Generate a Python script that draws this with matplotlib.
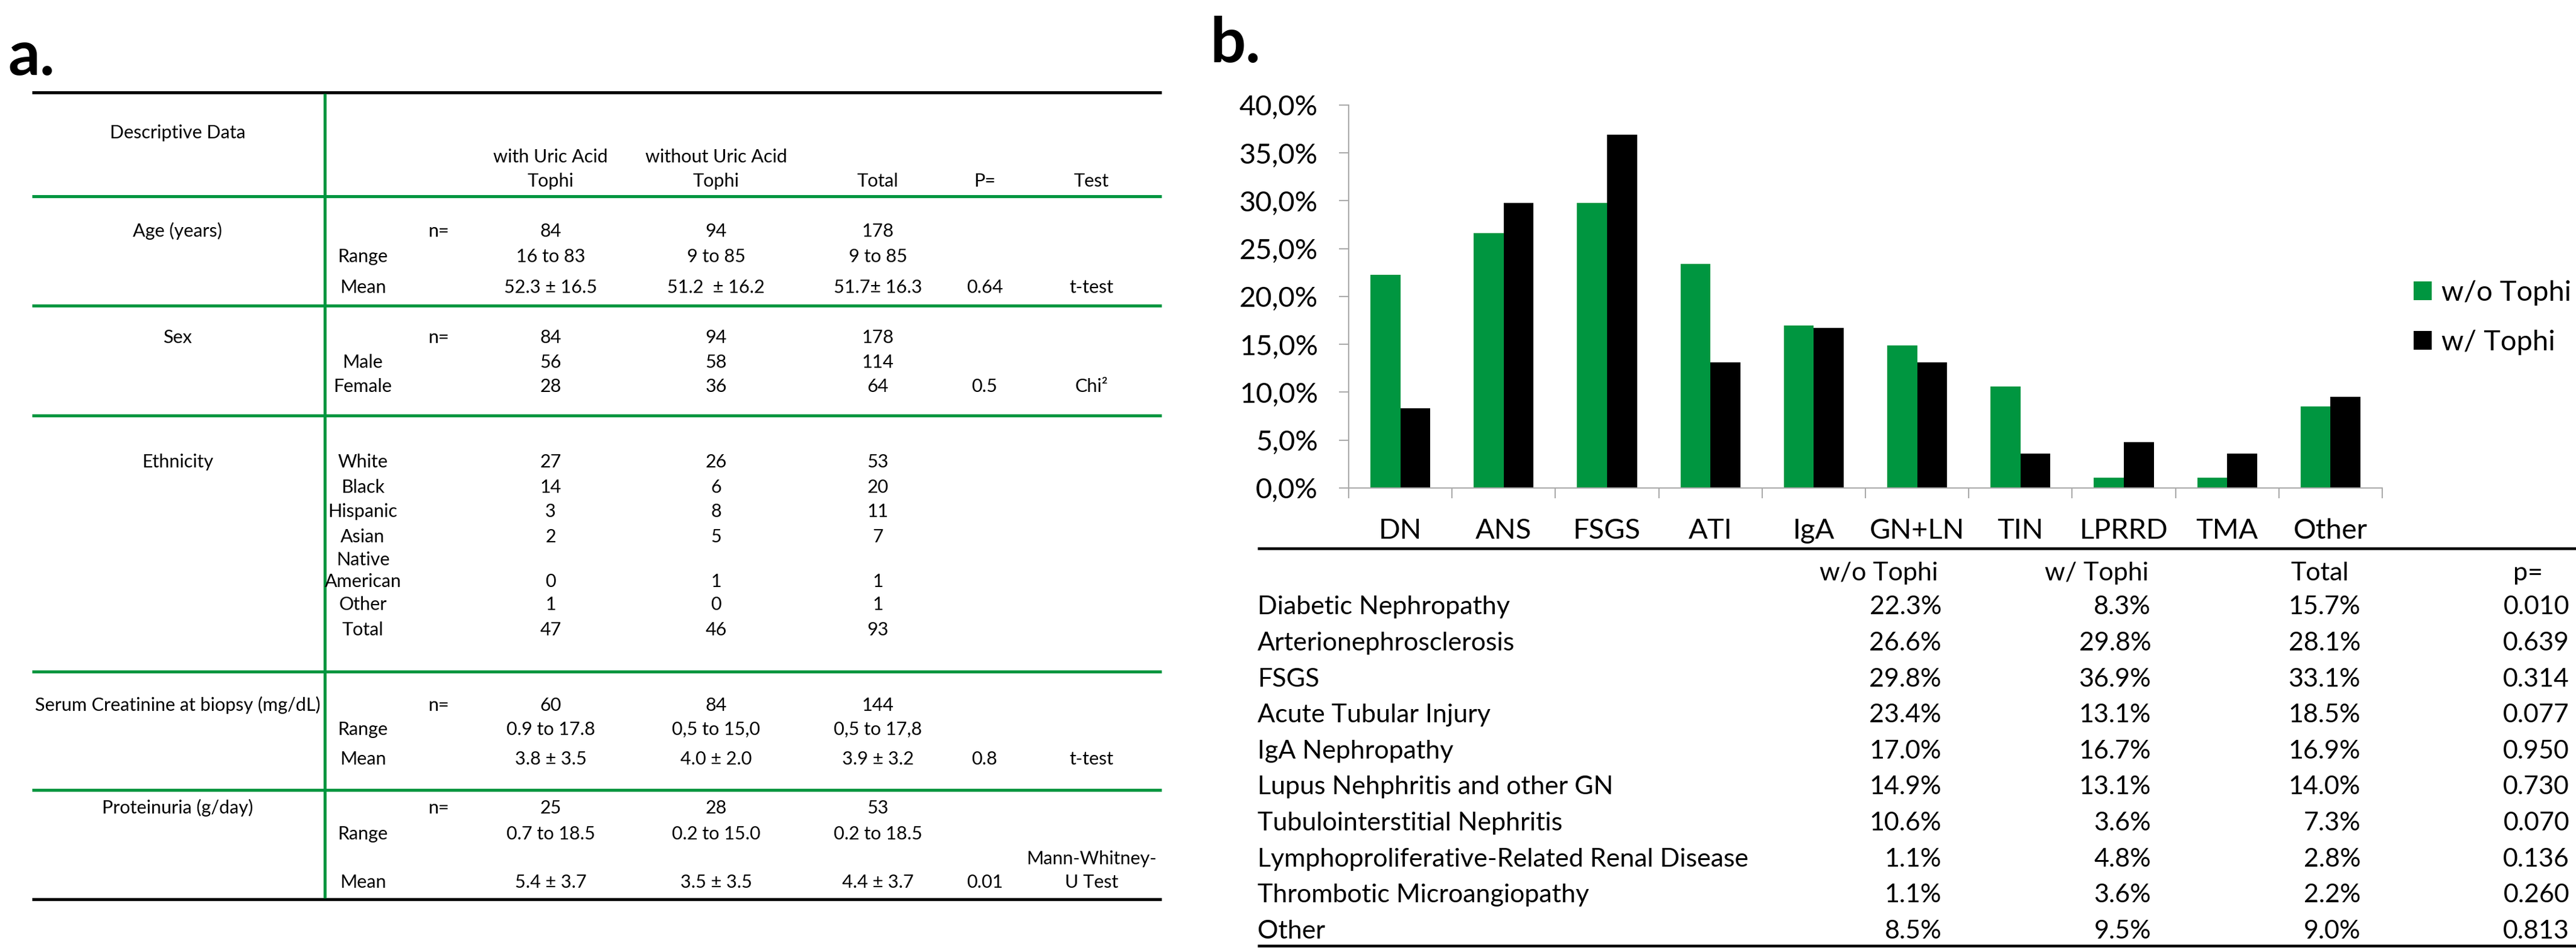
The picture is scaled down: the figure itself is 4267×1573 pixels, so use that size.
import numpy as np
import matplotlib
matplotlib.use("Agg")
import matplotlib.pyplot as plt
from matplotlib.ticker import FixedLocator, FuncFormatter, NullFormatter

plt.rcParams['font.family'] = ['Lato', 'DejaVu Sans']

# ---------------- data ----------------
categories = ['DN', 'ANS', 'FSGS', 'ATI', 'IgA', 'GN+LN', 'TIN', 'LPRRD', 'TMA', 'Other']
wo_tophi = [22.3, 26.6, 29.8, 23.4, 17.0, 14.9, 10.6, 1.1, 1.1, 8.5]
w_tophi = [8.3, 29.8, 36.9, 13.1, 16.7, 13.1, 3.6, 4.8, 3.6, 9.5]
total_pct = [15.7, 28.1, 33.1, 18.5, 16.9, 14.0, 7.3, 2.8, 2.2, 9.0]
p_values = ['0.010', '0.639', '0.314', '0.077', '0.950', '0.730', '0.070', '0.136', '0.260', '0.813']
diagnoses = ['Diabetic Nephropathy', 'Arterionephrosclerosis', 'FSGS', 'Acute Tubular Injury',
             'IgA Nephropathy', 'Lupus Nehphritis and other GN', 'Tubulointerstitial Nephritis',
             'Lymphoproliferative-Related Renal Disease', 'Thrombotic Microangiopathy', 'Other']
table_b_header = ['w/o Tophi', 'w/ Tophi', 'Total', 'p=']
legend_labels = ['w/o Tophi', 'w/ Tophi']
y_ticks = [0, 5, 10, 15, 20, 25, 30, 35, 40]

table_a_header = ['with Uric Acid\nTophi', 'without Uric Acid\nTophi', 'Total', 'P=', 'Test']
section_titles = ['Age (years)', 'Sex', 'Ethnicity', 'Serum Creatinine at biopsy (mg/dL)', 'Proteinuria (g/day)']
# rows: (sub label, n marker, with tophi, without tophi, total, p, test)
age_rows = [('', 'n=', '84', '94', '178', '', ''),
            ('Range', '', '16 to 83', '9 to 85', '9 to 85', '', ''),
            ('Mean', '', '52.3 ± 16.5', '51.2  ± 16.2', '51.7± 16.3', '0.64', 't-test')]
sex_rows = [('', 'n=', '84', '94', '178', '', ''),
            ('Male', '', '56', '58', '114', '', ''),
            ('Female', '', '28', '36', '64', '0.5', 'Chi²')]
eth_rows = [('White', '', '27', '26', '53', '', ''),
            ('Black', '', '14', '6', '20', '', ''),
            ('Hispanic', '', '3', '8', '11', '', ''),
            ('Asian', '', '2', '5', '7', '', ''),
            ('Native\nAmerican', '', '0', '1', '1', '', ''),
            ('Other', '', '1', '0', '1', '', ''),
            ('Total', '', '47', '46', '93', '', '')]
crea_rows = [('', 'n=', '60', '84', '144', '', ''),
             ('Range', '', '0.9 to 17.8', '0,5 to 15,0', '0,5 to 17,8', '', ''),
             ('Mean', '', '3.8 ± 3.5', '4.0 ± 2.0', '3.9 ± 3.2', '0.8', 't-test')]
prot_rows = [('', 'n=', '25', '28', '53', '', ''),
             ('Range', '', '0.7 to 18.5', '0.2 to 15.0', '0.2 to 18.5', '', ''),
             ('Mean', '', '5.4 ± 3.7', '3.5 ± 3.5', '4.4 ± 3.7', '0.01', 'Mann-Whitney-\nU Test')]
sections = [age_rows, sex_rows, eth_rows, crea_rows, prot_rows]

# ---------------- layout (pixels) ----------------
W, H = 4267, 1573
DPI = 100
GREEN = '#009640'
AXGRAY = '#A9A9A9'
PX = 72.0 / DPI  # points per pixel
CAP = 0.7165

fig = plt.figure(figsize=(W / DPI, H / DPI), dpi=DPI)
ov = fig.add_axes([0, 0, 1, 1])
ov.set_xlim(0, W)
ov.set_ylim(H, 0)
ov.axis('off')


def txt(x, yc, s, px, ha='center', **kw):
    ov.text(x, yc + CAP * px / 2.0, s, fontsize=px * PX, ha=ha, va='baseline', **kw)


# panel letters
ov.text(14, 124, 'a.', fontsize=104 * PX, fontweight='bold', ha='left', va='baseline')
ov.text(2005, 103, 'b.', fontsize=104 * PX, fontweight='bold', ha='left', va='baseline')

# ---------------- table a ----------------
TA = 30.5  # font px
tx0, tx1 = 53, 1924
lw_a = 5 * PX
ov.plot([tx0, tx1], [153, 153], color='black', lw=lw_a, solid_capstyle='butt')
ov.plot([tx0, tx1], [1489, 1489], color='black', lw=lw_a, solid_capstyle='butt')
for gy in [324.5, 506, 687.5, 1111.5, 1308]:
    ov.plot([tx0, tx1], [gy, gy], color=GREEN, lw=lw_a, solid_capstyle='butt')
ov.plot([538, 538], [155, 1487], color=GREEN, lw=lw_a, solid_capstyle='butt')

col_title, col_sub, col_n = 294, 601, 727
col_vals = [912, 1186, 1454, 1631, 1808]

txt(col_title, 218, 'Descriptive Data', TA)
for x, h in zip(col_vals, table_a_header):
    lines = h.split('\n')
    if len(lines) == 2:
        txt(x, 258, lines[0], TA)
        txt(x, 298, lines[1], TA)
    else:
        txt(x, 298, lines[0], TA)

section_row_y = [[381, 423, 474],
                 [557, 598, 638],
                 [763, 805, 845.5, 887, 961, 999, 1041],
                 [1166, 1206, 1255],
                 [1336, 1379, 1459.5]]
for title, rows, ys in zip(section_titles, sections, section_row_y):
    txt(col_title, ys[0], title, TA)
    for row, y in zip(rows, ys):
        sub, nmark = row[0], row[1]
        if '\n' in sub:
            a, b = sub.split('\n')
            txt(col_sub, y - 35.5, a, TA)
            txt(col_sub, y, b, TA)
        elif sub:
            txt(col_sub, y, sub, TA)
        if nmark:
            txt(col_n, y, nmark, TA)
        for x, v in zip(col_vals, row[2:]):
            if not v:
                continue
            if '\n' in v:
                a, b = v.split('\n')
                txt(x, y - 39.5, a, TA)
                txt(x, y, b, TA)
            else:
                txt(x, y, v, TA)

# ---------------- bar chart ----------------
ax_l, ax_r, ax_b, ax_t = 2234, 3946, 808, 174
ax = fig.add_axes([ax_l / W, 1 - ax_b / H, (ax_r - ax_l) / W, (ax_b - ax_t) / H])
xc = np.arange(len(categories)) + 0.5
bw = 0.29
b1 = ax.bar(xc - bw / 2, wo_tophi, width=bw, color=GREEN, linewidth=0, label=legend_labels[0])
b2 = ax.bar(xc + bw / 2, w_tophi, width=bw, color='black', linewidth=0, label=legend_labels[1])
ax.set_xlim(0, len(categories))
ax.set_ylim(0, 40)
for s in ['top', 'right']:
    ax.spines[s].set_visible(False)
for s in ['left', 'bottom']:
    ax.spines[s].set_color(AXGRAY)
    ax.spines[s].set_linewidth(2 * PX)
ax.yaxis.set_major_locator(FixedLocator(y_ticks))
ax.yaxis.set_major_formatter(FuncFormatter(lambda v, p: f'{v:.1f}%'.replace('.', ',')))
ax.tick_params(axis='y', which='major', direction='out', length=16 * PX, width=2 * PX,
               color=AXGRAY, labelsize=47 * PX, pad=35 * PX)
ax.xaxis.set_major_locator(FixedLocator(np.arange(len(categories) + 1)))
ax.xaxis.set_major_formatter(NullFormatter())
ax.xaxis.set_minor_locator(FixedLocator(xc))
ax.set_xticklabels(categories, minor=True)
ax.tick_params(axis='x', which='major', direction='out', length=17 * PX, width=2 * PX, color=AXGRAY)
ax.tick_params(axis='x', which='minor', length=0, labelsize=47 * PX, pad=50 * PX)
ax.patch.set_alpha(0)

fig.legend(handles=[b1, b2], labels=legend_labels, loc='center left',
           bbox_to_anchor=(3998 / W, 1 - 526 / H), frameon=False, fontsize=47 * PX,
           handlelength=0.64, handleheight=0.62, handletextpad=0.33, labelspacing=0.85,
           borderpad=0, borderaxespad=0)

# ---------------- table b ----------------
TB = 43
ov.plot([2083, W], [908, 908], color='black', lw=4.5 * PX, solid_capstyle='butt')
ov.plot([2083, W], [1566, 1566], color='black', lw=4.5 * PX, solid_capstyle='butt')
head_x = [3112, 3473, 3843, 4188]
val_right = [3216, 3563, 3910, 4256]
for x, h in zip(head_x, table_b_header):
    txt(x, 946, h, TB)
row_y0, row_dy = 1002, 59.6
for i, name in enumerate(diagnoses):
    y = row_y0 + i * row_dy
    txt(2083, y, name, TB, ha='left')
    vals = [f'{wo_tophi[i]:.1f}%', f'{w_tophi[i]:.1f}%', f'{total_pct[i]:.1f}%', p_values[i]]
    for x, v in zip(val_right, vals):
        txt(x, y, v, TB, ha='right')

fig.savefig('out.png', dpi=DPI)
